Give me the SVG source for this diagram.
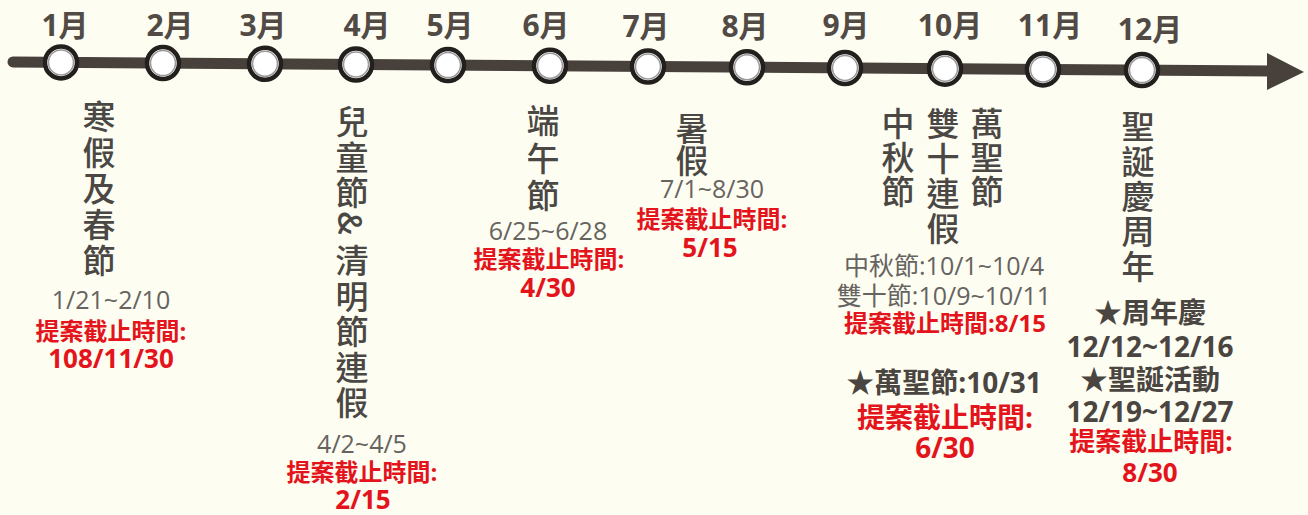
<svg xmlns="http://www.w3.org/2000/svg" width="1308" height="515" viewBox="0 0 1308 515">
<style>
.bg{fill:#fdfdf2}
.axis{stroke:#47403b;stroke-width:11;stroke-linecap:round;fill:none}
.head{fill:#47403b}
.ring{fill:#ffffff;stroke:#231f1d;stroke-width:4.5}
.inner{fill:#ffffff;stroke:#9a9a9a;stroke-width:1.5}
.mon{font-family:"Open Sans","Noto Sans CJK TC",sans-serif;font-weight:bold;font-size:30px;fill:#514a45;text-anchor:middle}
.vt{font-family:"Noto Sans CJK TC","Noto Sans CJK SC",sans-serif;font-weight:500;font-size:33px;fill:#4a4744;writing-mode:vertical-rl;text-anchor:start}
.dt{font-family:"Open Sans","Noto Sans CJK TC",sans-serif;font-size:25px;fill:#666360;text-anchor:middle}
.rd{font-family:"Open Sans","Noto Sans CJK TC",sans-serif;font-weight:bold;font-size:24px;fill:#e3141c;text-anchor:middle}
.rdb{font-family:"Open Sans","Noto Sans CJK TC",sans-serif;font-weight:bold;font-size:26px;fill:#e3141c;text-anchor:middle}
.rdl{font-family:"Open Sans","Noto Sans CJK TC",sans-serif;font-weight:bold;font-size:28px;fill:#e3141c;text-anchor:middle}
.bk{font-family:"Open Sans","Noto Sans CJK TC",sans-serif;font-weight:bold;font-size:28px;fill:#4a4540;text-anchor:middle}
</style>
<rect class="bg" x="0" y="0" width="1308" height="515"/>
<g id="connectors">
<line class="axis" x1="13" y1="62" x2="1272" y2="71"/>
<polygon class="head" points="1267,53 1304,72 1267,90"/>
</g>
<g id="m1"><text class="mon" x="65" y="36">1月</text><circle class="ring" cx="61" cy="62.4" r="16"/><circle class="inner" cx="61" cy="62.4" r="12.5"/></g>
<g id="m2"><text class="mon" x="170" y="36">2月</text><circle class="ring" cx="163" cy="63.1" r="16"/><circle class="inner" cx="163" cy="63.1" r="12.5"/></g>
<g id="m3"><text class="mon" x="263" y="36">3月</text><circle class="ring" cx="265" cy="63.8" r="16"/><circle class="inner" cx="265" cy="63.8" r="12.5"/></g>
<g id="m4"><text class="mon" x="367" y="36">4月</text><circle class="ring" cx="356" cy="64.5" r="16"/><circle class="inner" cx="356" cy="64.5" r="12.5"/></g>
<g id="m5"><text class="mon" x="450" y="36">5月</text><circle class="ring" cx="448" cy="65.1" r="16"/><circle class="inner" cx="448" cy="65.1" r="12.5"/></g>
<g id="m6"><text class="mon" x="546" y="36">6月</text><circle class="ring" cx="550" cy="65.8" r="16"/><circle class="inner" cx="550" cy="65.8" r="12.5"/></g>
<g id="m7"><text class="mon" x="646" y="37">7月</text><circle class="ring" cx="648" cy="66.5" r="16"/><circle class="inner" cx="648" cy="66.5" r="12.5"/></g>
<g id="m8"><text class="mon" x="745" y="37">8月</text><circle class="ring" cx="747" cy="67.3" r="16"/><circle class="inner" cx="747" cy="67.3" r="12.5"/></g>
<g id="m9"><text class="mon" x="846" y="36">9月</text><circle class="ring" cx="845" cy="68" r="16"/><circle class="inner" cx="845" cy="68" r="12.5"/></g>
<g id="m10"><text class="mon" x="950" y="36">10月</text><circle class="ring" cx="945" cy="68.7" r="16"/><circle class="inner" cx="945" cy="68.7" r="12.5"/></g>
<g id="m11"><text class="mon" x="1050" y="36">11月</text><circle class="ring" cx="1043" cy="69.4" r="16"/><circle class="inner" cx="1043" cy="69.4" r="12.5"/></g>
<g id="m12"><text class="mon" x="1150" y="40">12月</text><circle class="ring" cx="1142" cy="70.1" r="16"/><circle class="inner" cx="1142" cy="70.1" r="12.5"/></g>

<g id="ev-winter">
<text class="vt" x="99" y="100" letter-spacing="3">寒假及春節</text>
<text class="dt" x="111" y="309">1/21~2/10</text>
<text class="rd" x="111" y="340">提案截止時間:</text>
<text class="rdb" x="111" y="368">108/11/30</text>
</g>
<g id="ev-april">
<text class="vt" x="352" y="105" letter-spacing="2.5">兒童節&amp;</text>
<text class="vt" x="352" y="244" letter-spacing="2.5">清明節連假</text>
<text class="dt" x="362" y="453">4/2~4/5</text>
<text class="rd" x="362" y="481">提案截止時間:</text>
<text class="rdb" x="363" y="509">2/15</text>
</g>
<g id="ev-dragon">
<text class="vt" x="543" y="104" letter-spacing="4.5">端午節</text>
<text class="dt" x="548" y="240">6/25~6/28</text>
<text class="rd" x="549" y="268">提案截止時間:</text>
<text class="rdb" x="548" y="297">4/30</text>
</g>
<g id="ev-summer">
<text class="vt" x="692" y="112" letter-spacing="-1">暑假</text>
<text class="dt" x="712" y="198">7/1~8/30</text>
<text class="rd" x="712" y="228">提案截止時間:</text>
<text class="rdb" x="710" y="257">5/15</text>
</g>
<g id="ev-october">
<text class="vt" x="898" y="107" letter-spacing="1">中秋節</text>
<text class="vt" x="943" y="107" letter-spacing="2">雙十連假</text>
<text class="vt" x="987" y="107" letter-spacing="1">萬聖節</text>
<text class="dt" x="944" y="275">中秋節:10/1~10/4</text>
<text class="dt" x="944" y="305">雙十節:10/9~10/11</text>
<text class="rd" x="945" y="332">提案截止時間:8/15</text>
</g>
<g id="ev-halloween">
<text class="bk" x="944" y="393">★萬聖節:10/31</text>
<text class="rdl" x="945" y="428">提案截止時間:</text>
<text class="rdl" x="945" y="458">6/30</text>
</g>
<g id="ev-december">
<text class="vt" x="1138" y="110" letter-spacing="2">聖誕慶周年</text>
<text class="bk" x="1150" y="323">★周年慶</text>
<text class="bk" x="1150" y="357">12/12~12/16</text>
<text class="bk" x="1150" y="390">★聖誕活動</text>
<text class="bk" x="1150" y="422">12/19~12/27</text>
<text class="rdb" x="1151" y="451">提案截止時間:</text>
<text class="rdb" x="1150" y="482">8/30</text>
</g>
</svg>
